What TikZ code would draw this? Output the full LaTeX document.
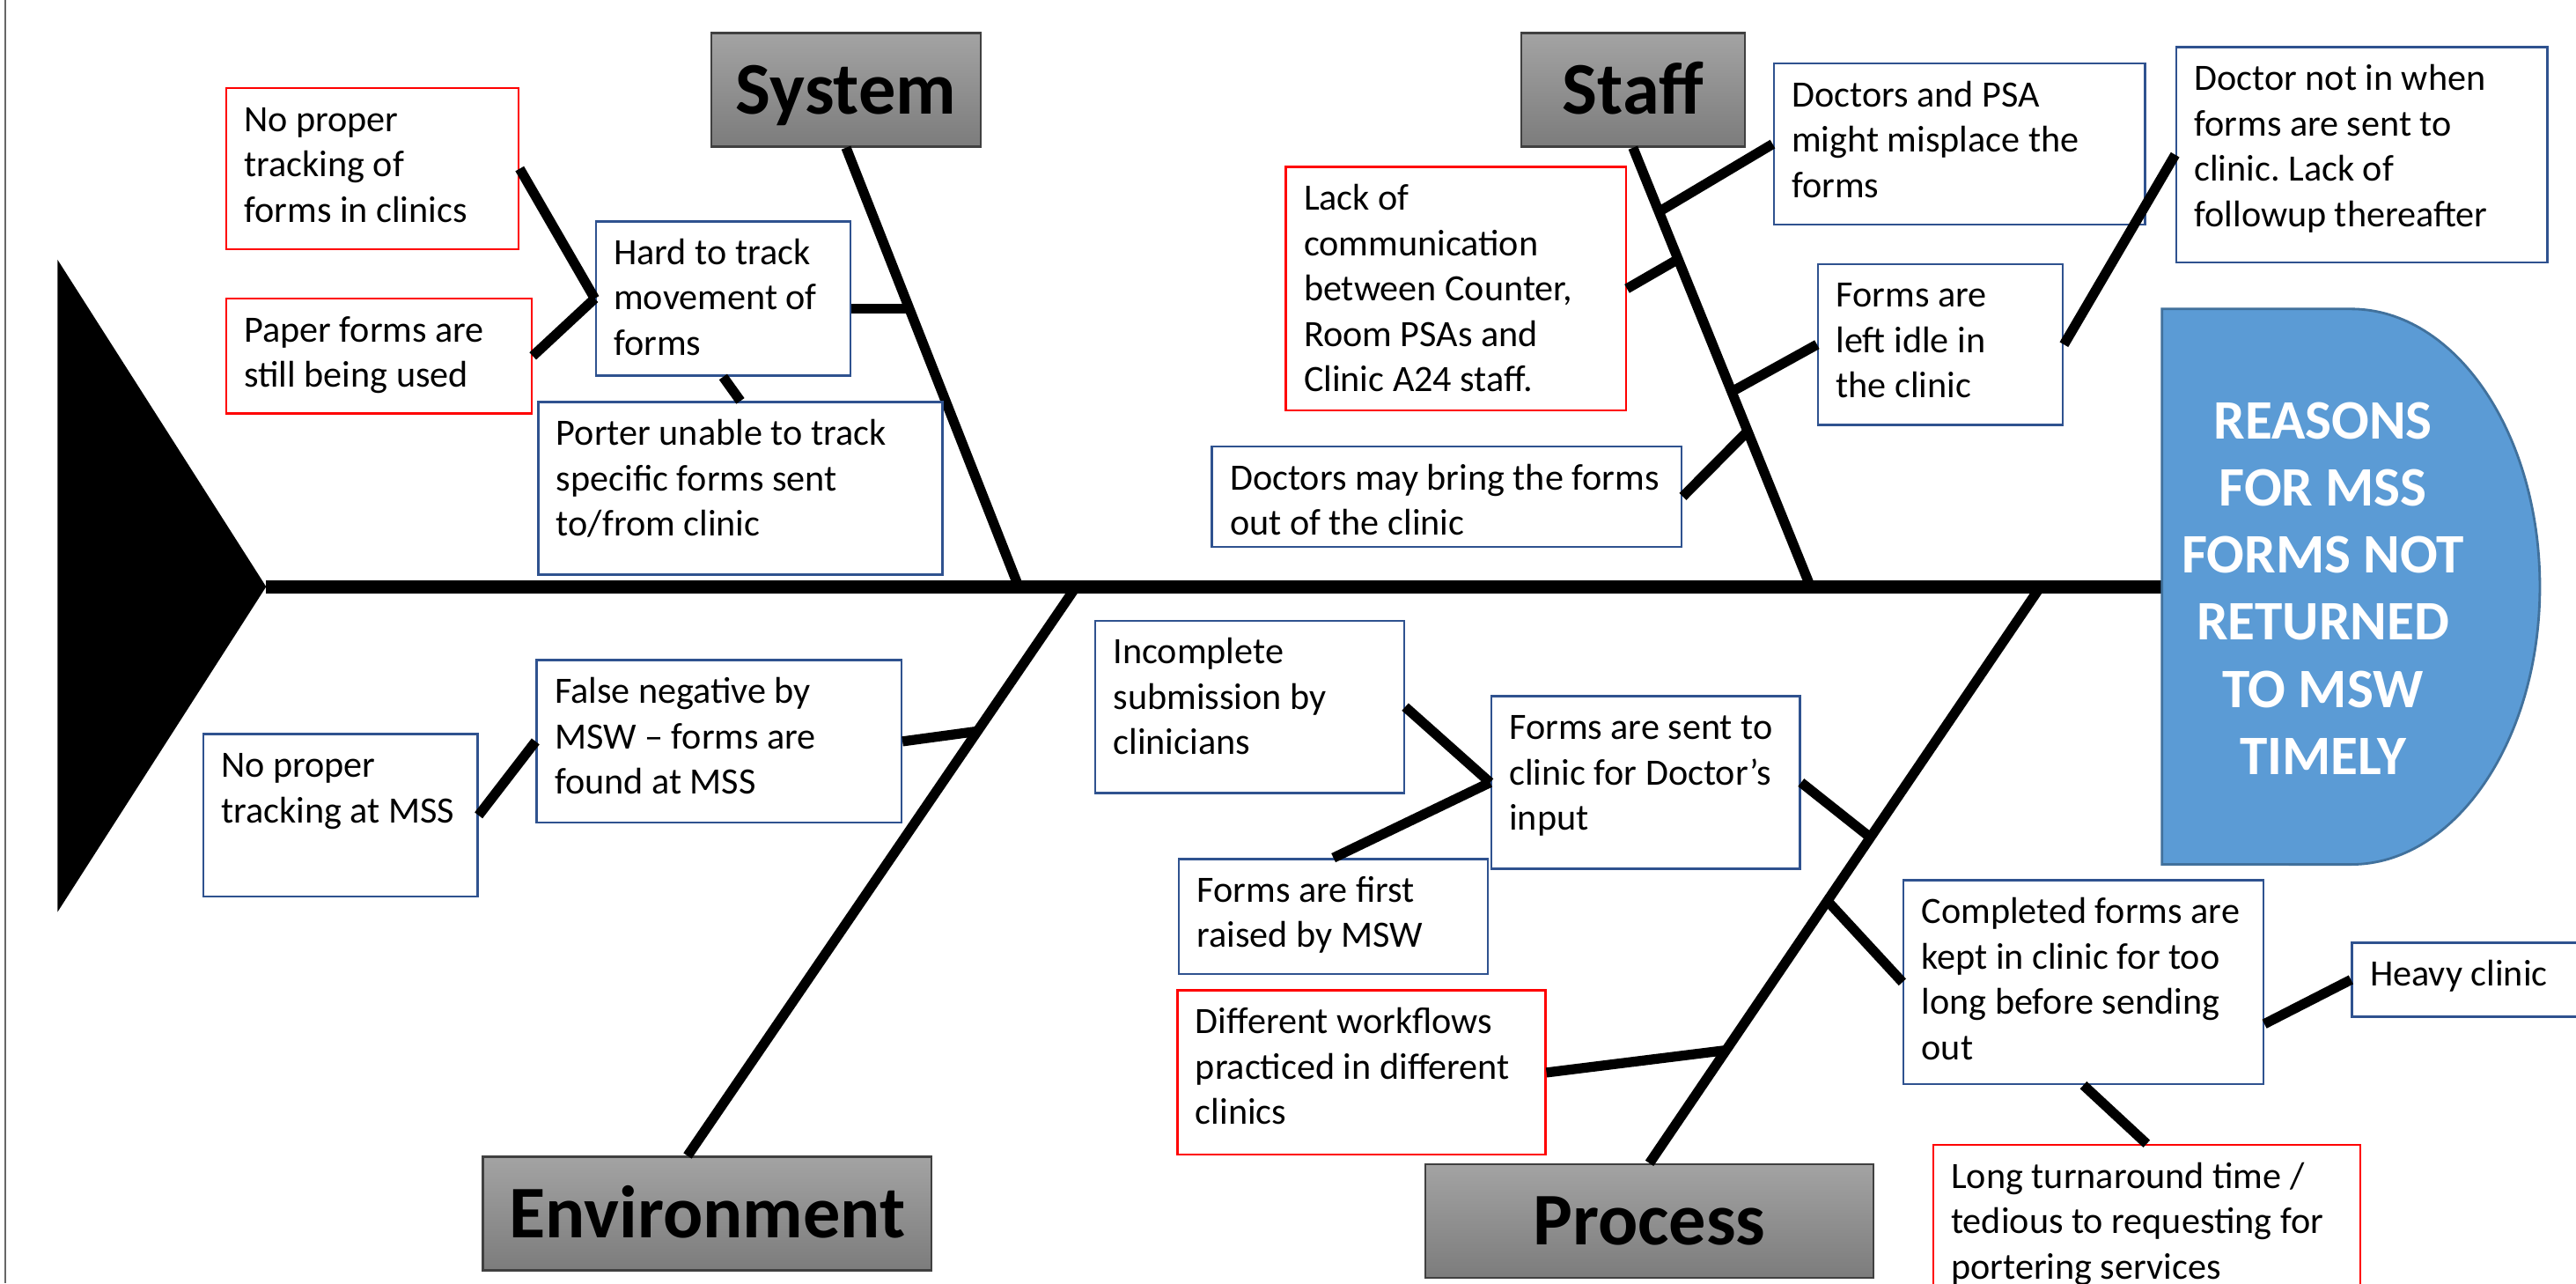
\documentclass[tikz,border=0pt]{standalone}
\usepackage{fontspec}
\setmainfont{Carlito}
\usetikzlibrary{calc}
\frenchspacing
\definecolor{redline}{HTML}{FF0000}
\definecolor{blueline}{HTML}{2F528F}
\definecolor{headblue}{HTML}{5B9BD5}
\definecolor{headedge}{HTML}{41719C}
\definecolor{cattop}{HTML}{A3A3A3}
\definecolor{catbot}{HTML}{7C7C7C}
\newlength\pxu
\setlength\pxu{0.01866cm}
\newcommand{\ctext}[3]{\parbox[t][#2\pxu][t]{#1\pxu}{\begin{tabular}[t]{@{}l@{}}#3\end{tabular}}}
\tikzset{
  cause/.style={draw=blueline, line width=0.7pt, fill=white, anchor=north west,
    inner xsep=0.2053cm, inner ysep=0.1306cm, font=\fontsize{12}{14.65}\selectfont},
  redcause/.style={cause, draw=redline},
  category/.style={draw=black!75, line width=0.7pt, top color=cattop, bottom color=catbot,
    text height=15.5pt, text depth=0pt, minimum height=1.288cm, inner sep=0pt,
    font=\bfseries\fontsize{24}{29}\selectfont},
  headtext/.style={text=white, align=center, font=\bfseries\fontsize{18}{21.7}\selectfont},
  spine/.style={line width=4.3pt},
  bone/.style={line width=3.2pt},
  link/.style={line width=3.2pt}
}
\begin{document}
\begin{tikzpicture}[x=0.01866cm,y=-0.01866cm]
\useasboundingbox (0,0) rectangle (1568,781);
\fill[white] (0,0) rectangle (1568,781);
\draw[black!60, line width=0.6pt] (3,0) -- (3,781);

\coordinate (tail) at (162,357);
\coordinate (headw) at (1316,357);
\fill (35,158) -- (tail) -- (35,555) -- cycle;
\draw[spine] (tail) -- (headw);

\node[category, minimum width=3.06cm] (sys) at (515,54.7) {System};
\node[category, minimum width=2.538cm] (stf) at (994,54.7) {Staff};
\node[category, minimum width=5.094cm] (env) at (430.5,738.5) {Environment};
\node[category, minimum width=5.094cm] (prc) at (1004,743) {Process};

\coordinate (sysroot) at (620,357);
\coordinate (stfroot) at (1102,357);
\coordinate (envroot) at (655,357);
\coordinate (prcroot) at (1242,357);
\coordinate (envfoot) at ($(env.north)+(-12,0)$);
\draw[bone] (sys.south) -- (sysroot);
\draw[bone] (stf.south) -- (stfroot);
\draw[bone] (envfoot) -- (envroot);
\draw[bone] (prc.north) -- (prcroot);

\coordinate (sb1) at ($(sys.south)!0.366!(sysroot)$);
\coordinate (tb1) at ($(stf.south)!0.146!(stfroot)$);
\coordinate (tb2) at ($(stf.south)!0.254!(stfroot)$);
\coordinate (tb3) at ($(stf.south)!0.556!(stfroot)$);
\coordinate (tb4) at ($(stf.south)!0.646!(stfroot)$);
\coordinate (eb1) at ($(envroot)!0.254!(envfoot)$);
\coordinate (pb1) at ($(prcroot)!0.435!(prc.north)$);
\coordinate (pb2) at ($(prcroot)!0.545!(prc.north)$);
\coordinate (pb3) at ($(prcroot)!0.804!(prc.north)$);

\node[redcause] (sys1) at (137,53) {\ctext{156}{84}{No proper\\tracking of\\forms in clinics}};
\node[redcause] (sys2) at (137,181) {\ctext{164}{56}{Paper forms are\\still being used}};
\node[cause] (sys3) at (362,134) {\ctext{133}{80}{Hard to track\\movement of\\forms}};
\node[cause] (sys4) at (327,244) {\ctext{224}{91}{Porter unable to track\\specific forms sent\\to/from clinic}};

\node[redcause] (stf1) at (782,101) {\ctext{185}{134}{Lack of\\communication\\between Counter,\\Room PSAs and\\Clinic A24 staff.}};
\node[cause] (stf2) at (1079,38) {\ctext{204}{84}{Doctors and PSA\\might misplace the\\forms}};
\node[cause] (stf3) at (1324,28) {\ctext{204}{117}{Doctor not in when\\forms are sent to\\clinic. Lack of\\followup thereafter}};
\node[cause] (stf4) at (1106,160) {\ctext{127}{84}{Forms are\\left idle in\\the clinic}};
\node[cause] (stf5) at (737,271) {\ctext{264}{47}{Doctors may bring the forms\\out of the clinic}};

\node[cause] (env1) at (326,401) {\ctext{200}{85}{False negative by\\MSW – forms are\\found at MSS}};
\node[cause] (env2) at (123,446) {\ctext{145}{85}{No proper\\tracking at MSS}};

\node[cause] (prc1) at (666,377) {\ctext{166}{91}{Incomplete\\submission by\\clinicians}};
\node[cause] (prc2) at (907,423) {\ctext{166}{91}{Forms are sent to\\clinic for Doctor’s\\input}};
\node[cause] (prc3) at (717,522) {\ctext{166}{56}{Forms are first\\raised by MSW}};
\node[redcause] (prc4) at (716,602) {\ctext{202}{86}{Different workflows\\practiced in different\\clinics}};
\node[cause] (prc5) at (1158,535) {\ctext{197}{110}{Completed forms are\\kept in clinic for too\\long before sending\\out}};
\node[cause] (prc6) at (1431,573) {\ctext{128}{31}{Heavy clinic}};
\node[redcause] (prc7) at (1176,696) {\ctext{238}{96}{Long turnaround time /\\tedious to requesting for\\portering services}};

\draw[link] (sys1.east) -- (sys3.west);
\draw[link] (sys2.east) -- (sys3.west);
\draw[link] (sys3.east |- sb1) -- (sb1);
\draw[link] (sys3.south) -- (sys4.north);

\draw[link] (stf2.west) -- (tb1);
\draw[link] (stf1.east) -- (tb2);
\draw[link] (stf4.west) -- (tb3);
\draw[link] (stf5.east) -- (tb4);
\draw[link] (stf3.west) -- (stf4.east);

\draw[link] (env1.east) -- (eb1);
\draw[link] (env2.east) -- (env1.west);

\draw[link] (prc1.east) -- (prc2.west);
\draw[link] (prc3.north) -- (prc2.west);
\draw[link] (prc2.east) -- (pb1);
\draw[link] (prc5.west) -- (pb2);
\draw[link] (prc4.east) -- (pb3);
\draw[link] (prc5.-13) -- (prc6.west);
\draw[link] (prc5.south) -- (prc7.north);

\draw[fill=headblue, draw=headedge, line width=0.8pt] (headw |- 0,188) -- (1431,188)
  arc[start angle=90, end angle=-90, x radius=2.146cm, y radius=3.154cm] -- (headw |- 0,526) -- cycle;
\node[headtext] (head) at (1414,358) {REASONS\\FOR MSS\\FORMS NOT\\RETURNED\\TO MSW\\TIMELY};
\end{tikzpicture}
\end{document}
